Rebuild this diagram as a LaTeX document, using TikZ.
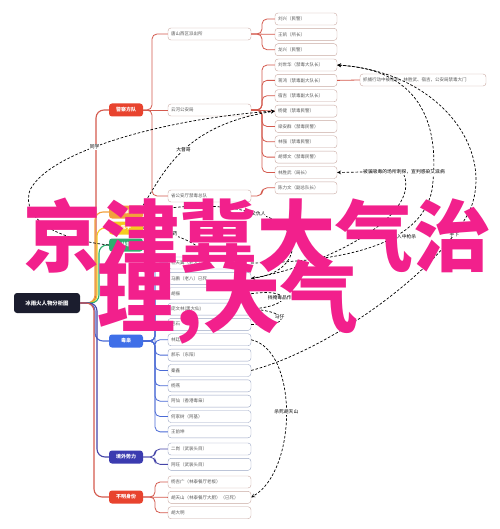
\documentclass[tikz,border=0pt]{standalone}
\usepackage{fontspec}
\newfontfamily\cjk{Noto Sans CJK SC}
\usepackage{tikz}
\usetikzlibrary{positioning,arrows}
\definecolor{rootc}{HTML}{1B1D2E}
\definecolor{redc}{HTML}{E8432E}
\definecolor{orangec}{HTML}{F2A03D}
\definecolor{yellowc}{HTML}{F5CB1E}
\definecolor{greenc}{HTML}{2EAE6E}
\definecolor{bluec}{HTML}{3F6FE8}
\definecolor{purplec}{HTML}{3B3BB0}
\definecolor{redline}{HTML}{D45A4E}
\definecolor{blueline}{HTML}{4B6BD6}
\definecolor{purpleline}{HTML}{4545A8}
\definecolor{warmedge}{HTML}{C9A9A2}
\definecolor{cooledge}{HTML}{9BA7C4}
\definecolor{wmc}{HTML}{F2208C}
\tikzstyle{root} = [fill=rootc, text=white, rounded corners=3pt, minimum width=66pt, minimum height=20pt, inner sep=0, font=\cjk\bfseries\fontsize{5.4}{6}\selectfont]
\tikzstyle{topic} = [text=white, rounded corners=3pt, minimum width=34pt, minimum height=13pt, inner sep=0, font=\cjk\bfseries\fontsize{5}{6}\selectfont]
\tikzstyle{leaf} = [draw=warmedge, fill=white, rounded corners=3pt, text=black!65, minimum height=12pt, inner ysep=0pt, inner xsep=3pt, align=left, font=\cjk\fontsize{4.5}{5}\selectfont]
\tikzstyle{wleaf} = [leaf, text width=77pt]
\tikzstyle{nleaf} = [leaf, text width=56pt]
\tikzstyle{trunk} = [line width=1.1pt, rounded corners=8pt]
\tikzstyle{twig} = [line width=0.8pt, rounded corners=5pt]
\tikzstyle{link} = [draw=black, line width=0.7pt, dash pattern=on 2.6pt off 1.8pt, -stealth]
\tikzstyle{tag} = [fill=white, text=black, inner sep=0.6pt, font=\cjk\fontsize{4.8}{5}\selectfont]
\tikzstyle{overlay} = [text=wmc, inner sep=0, font=\cjk\bfseries\fontsize{78}{78}\selectfont]
\tikzset{semithick, node distance=15.35pt}
\begin{document}
\begin{tikzpicture}[x=1pt,y=-1pt]
\useasboundingbox[fill=white] (0,0) rectangle (499,529);

\node[root] (root) at (47,303) {冰雨火人物分析图};

\node[topic, fill=redc] (police) at (126,110) {警察方队};
\node[topic, fill=orangec] (wu) at (126,212) {吴振峰};
\node[topic, fill=yellowc] (chen) at (126,228) {陈宇};
\node[topic, fill=greenc] (lin) at (126,245) {林菲};
\node[topic, fill=bluec] (dx) at (126,341) {毒枭};
\node[topic, fill=purplec] (jw) at (126,457) {境外势力};
\node[topic, fill=redc] (bm) at (126,497) {不明身份};

\node[wleaf] (ts) at (209.5,34) {唐山西区派出所};
\node[wleaf] (yh) at (209.5,110) {云河公安局};
\node[wleaf] (st) at (209.5,196) {省公安厅禁毒总队};

\node[nleaf] (k1) at (306,19) {刘兴（民警）};
\node[nleaf, below of=k1] (k2) {王凯（所长）};
\node[nleaf, below of=k2] (k3) {龙兴（民警）};
\node[nleaf, below of=k3] (y1) {刘世华（禁毒大队长）};
\node[nleaf, below of=y1] (y2) {蒋鸿（禁毒副大队长）};
\node[nleaf, below of=y2] (y3) {宿吉（禁毒副大队长）};
\node[nleaf, below of=y3] (y4) {杨健（禁毒民警）};
\node[nleaf, below of=y4] (y5) {梁安群（禁毒民警）};
\node[nleaf, below of=y5] (y6) {林强（禁毒民警）};
\node[nleaf, below of=y6] (y7) {胡博文（禁毒民警）};
\node[nleaf, below of=y7] (y8) {林胜武（局长）};
\node[nleaf, below of=y8] (s1) {陈力文（副总队长）};
\node[leaf, text width=120pt] (jh) at (423,80) {抓捕行动中被枪杀，林胜武、宿吉，公安局禁毒大门};

\node[wleaf, draw=cooledge] (b1) at (209.5,263) {杜天翼（老大）已死};
\node[wleaf, draw=cooledge, below of=b1] (b2) {马鹏（老八）已死};
\node[wleaf, draw=cooledge, below of=b2] (b3) {胡振};
\node[wleaf, draw=cooledge, below of=b3] (b4) {庞文林(黑大仙)};
\node[wleaf, draw=cooledge, below of=b4] (b5) {巴石};
\node[wleaf, draw=cooledge, below of=b5] (b6) {林廷楼};
\node[wleaf, draw=cooledge, below of=b6] (b7) {郝乐（东阳）};
\node[wleaf, draw=cooledge, below of=b7] (b8) {秦鑫};
\node[wleaf, draw=cooledge, below of=b8] (b9) {杨燕};
\node[wleaf, draw=cooledge, below of=b9] (b10) {阿仙（香港毒枭）};
\node[wleaf, draw=cooledge, below of=b10] (b11) {何家树（阿基）};
\node[wleaf, draw=cooledge, below of=b11] (b12) {王前坤};

\node[wleaf, draw=cooledge] (w1) at (209.5,449) {二岗（武装头目）};
\node[wleaf, draw=cooledge, below of=w1] (w2) {阿旺（武装头目）};

\node[wleaf] (u1) at (209.5,482) {杨吉广（林泰餐厅老板）};
\node[wleaf, below of=u1] (u2) {胡天山（林泰餐厅大厨）（已死）};
\node[wleaf, below of=u2] (u3) {胡大明};

% root to topics
\draw[trunk, redline] (root.east) -- (96,303) |- (police.west);
\draw[trunk, orangec] (root.east) -- (95,303) |- (wu.west);
\draw[trunk, yellowc] (root.east) -- (97,303) |- (chen.west);
\draw[trunk, greenc] (root.east) -- (99,303) |- (lin.west);
\draw[trunk, blueline] (root.east) -- (95,303) |- (dx.west);
\draw[trunk, purpleline] (root.east) -- (97,303) |- (jw.west);
\draw[trunk, redline] (root.east) -- (94,303) |- (bm.west);

% police
\draw[twig, redline] (police.east) -- (152,110) |- (ts.west);
\draw[twig, redline] (police.east) -- (yh.west);
\draw[twig, redline] (police.east) -- (152,110) |- (st.west);
\draw[twig, redline] (ts.east) -- (262,34) |- (k1.west);
\draw[twig, redline] (ts.east) -- (k2.west);
\draw[twig, redline] (ts.east) -- (262,34) |- (k3.west);
\draw[twig, redline] (yh.east) -- (262,110) |- (y1.west);
\draw[twig, redline] (yh.east) -- (262,110) |- (y2.west);
\draw[twig, redline] (yh.east) -- (262,110) |- (y3.west);
\draw[twig, redline] (yh.east) -- (y4.west);
\draw[twig, redline] (yh.east) -- (262,110) |- (y5.west);
\draw[twig, redline] (yh.east) -- (262,110) |- (y6.west);
\draw[twig, redline] (yh.east) -- (262,110) |- (y7.west);
\draw[twig, redline] (yh.east) -- (262,110) |- (y8.west);
\draw[twig, redline] (st.east) -- (262,196) |- (s1.west);
\draw[twig, redline] (y2.east) -- (jh.west);

% drug lords
\draw[twig, blueline] (dx.east) -- (155,341) |- (b1.west);
\draw[twig, blueline] (dx.east) -- (155,341) |- (b2.west);
\draw[twig, blueline] (dx.east) -- (155,341) |- (b3.west);
\draw[twig, blueline] (dx.east) -- (155,341) |- (b4.west);
\draw[twig, blueline] (dx.east) -- (155,341) |- (b5.west);
\draw[twig, blueline] (dx.east) -- (155,341) |- (b6.west);
\draw[twig, blueline] (dx.east) -- (155,341) |- (b7.west);
\draw[twig, blueline] (dx.east) -- (155,341) |- (b8.west);
\draw[twig, blueline] (dx.east) -- (155,341) |- (b9.west);
\draw[twig, blueline] (dx.east) -- (155,341) |- (b10.west);
\draw[twig, blueline] (dx.east) -- (155,341) |- (b11.west);
\draw[twig, blueline] (dx.east) -- (155,341) |- (b12.west);
\draw[twig, purpleline] (jw.east) -- (155,457) |- (w1.west);
\draw[twig, purpleline] (jw.east) -- (155,457) |- (w2.west);
\draw[twig, redline] (bm.east) -- (155,497) |- (u1.west);
\draw[twig, redline] (bm.east) -- (u2.west);
\draw[twig, redline] (bm.east) -- (155,497) |- (u3.west);

% relations
\draw[link] (lin.west) .. controls (60,240) and (20,220) .. (30,190) .. controls (50,150) and (170,118) .. node[tag, pos=0.4] {同学} (y4.west);
\draw[link] (wu.north east) .. controls (165,170) and (185,125) .. node[tag, pos=0.5] {大督哥} (y4.west);
\draw[link] (wu.east) .. controls (190,203) and (230,205) .. (256,214) node[tag] {杀父仇人} .. controls (305,222) and (305,272) .. (b2.east);
\draw[link] (chen.east) .. controls (165,232) and (190,237) .. node[tag, pos=0.4] {安眠药} (b1.north);
\draw[link] (b3.east) .. controls (290,288) and (295,305) .. node[tag, pos=0.5] {挡掩毒品作案} (b4.east);
\draw[link] (b5.east) .. controls (292,327) and (290,312) .. node[tag, pos=0.6] {马仔} (b4.east);
\draw[link] (b1.east) .. controls (330,262) and (420,250) .. node[tag, pos=0.65] {行动中被骗入中枪杀} (432,190) .. controls (440,130) and (425,70) .. (y1.east);
\draw[link] (b8.east) .. controls (330,350) and (440,270) .. node[tag, pos=0.87] {手下} (470,210) .. controls (495,150) and (440,72) .. (y1.east);
\node[tag] (lsw) at (404,172) {被骗吸毒的场所刺探，宣判感染艾滋病};
\draw[link] (lsw.west) -- (y8.east);
\draw[link, -] (b2.east) .. controls (330,265) and (420,215) .. (lsw.south);
\draw[link] (b6.east) .. controls (298,350) and (298,470) .. node[tag, pos=0.5] {杀死胡天山} (u2.east);

% overlay text
\node[overlay] (wm1) at (257,236) {京津冀大气治};
\node[overlay] (wm2) at (228,302) {理,大气};
\end{tikzpicture}
\end{document}
